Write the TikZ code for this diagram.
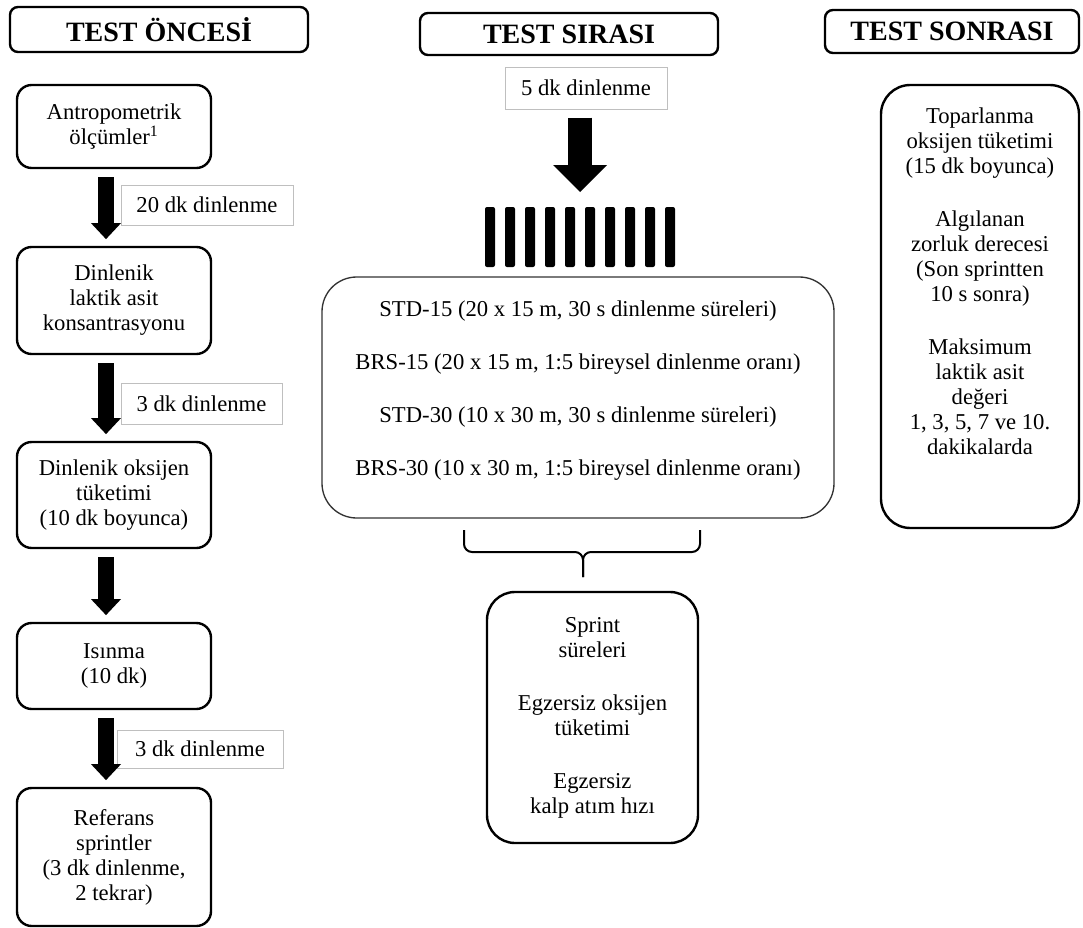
\documentclass[tikz,border=0pt]{standalone}
\usepackage{fontspec}
\setmainfont{Liberation Serif}
\usetikzlibrary{arrows.meta}

\tikzset{
  bodyfont/.style={font=\fontsize{17pt}{18.75pt}\selectfont},
  phase/.style={draw, line width=1.8pt, rounded corners=6pt, inner sep=0pt,
    font=\fontsize{21pt}{24pt}\selectfont\bfseries},
  stepbox/.style={draw, line width=1.8pt, rounded corners=11pt, bodyfont,
    align=center, inner sep=0pt, minimum width=145.5pt},
  restlbl/.style={draw=gray!50, line width=0.75pt, bodyfont, inner sep=0pt},
  flow/.style={line width=12pt, -{Triangle[length=12pt, width=22.5pt, line width=0pt]},
    shorten <=6pt, shorten >=5pt},
  bigflow/.style={line width=18pt, -{Triangle[length=20.25pt, width=40.5pt, line width=0pt]},
    shorten <=6pt, shorten >=11.25pt},
}

\begin{document}
\begin{tikzpicture}[x=0.75pt, y=-0.75pt]
  \useasboundingbox (0,0) rectangle (1083,928);
  \fill[white] (0,0) rectangle (1083,928);

  % headers
  \node[phase, minimum width=223.5pt, minimum height=33.75pt] (pre) at (159,29.5) {TEST ÖNCESİ};
  \node[phase, minimum width=223.5pt, minimum height=31.5pt] (during) at (569,34) {TEST SIRASI};
  \node[phase, minimum width=190.5pt, minimum height=32.25pt] (post) at (952,31.5) {TEST SONRASI};

  % before the test
  \node[stepbox, minimum height=62.25pt] (antro) at (114,126.5) {Antropometrik\\ölçümler\textsuperscript{1}};
  \node[stepbox, minimum height=80.25pt] (restlac) at (114,300.5) {Dinlenik\\laktik asit\\konsantrasyonu};
  \node[stepbox, minimum height=79.5pt] (restvo) at (114,495) {Dinlenik oksijen\\tüketimi\\(10 dk boyunca)};
  \node[stepbox, minimum height=64.5pt] (warmup) at (114,666) {Isınma\\(10 dk)};
  \node[stepbox, minimum height=103.5pt] (refspr) at (114,857) {Referans\\sprintler\\(3 dk dinlenme,\\2 tekrar)};

  \node[restlbl, minimum width=129pt, minimum height=30pt] (rest20) at (207,205) {20 dk dinlenme};
  \node[restlbl, minimum width=120.75pt, minimum height=30.75pt] (rest3a) at (201.5,403.5) {3 dk dinlenme};
  \node[restlbl, minimum width=124.5pt, minimum height=28.5pt] (rest3b) at (200,749) {3 dk dinlenme};

  \draw[flow] ([xshift=-6pt]antro.south) -- ([xshift=-6pt]restlac.north);
  \draw[flow] ([xshift=-6pt]restlac.south) -- ([xshift=-6pt]restvo.north);
  \draw[flow] ([xshift=-6pt]restvo.south) -- ([xshift=-6pt]warmup.north);
  \draw[flow] ([xshift=-6pt]warmup.south) -- ([xshift=-6pt]refspr.north);

  % during the test
  \node[restlbl, minimum width=121.5pt, minimum height=31.5pt] (rest5) at (586,88) {5 dk dinlenme};
  \coordinate (bars) at (580,207);
  \draw[bigflow] (rest5.south -| bars) -- (bars);
  \foreach \i in {0,...,9}
    \fill[rounded corners=1.5pt] ({485+20*\i},207) rectangle ++(10,60);

  \node[draw=black!80, line width=1pt, rounded corners=26pt, inner sep=0pt,
    minimum width=384pt, minimum height=180.75pt] (protocols) at (578,397.5) {};
  \node[bodyfont, align=center, anchor=north, inner sep=0pt] (protolist) at (578,301)
    {STD-15 (20 x 15 m, 30 s dinlenme süreleri)\\[21pt]
     BRS-15 (20 x 15 m, 1:5 bireysel dinlenme oranı)\\[21pt]
     STD-30 (10 x 30 m, 30 s dinlenme süreleri)\\[21pt]
     BRS-30 (10 x 30 m, 1:5 bireysel dinlenme oranı)};

  \draw[line width=1.5pt, rounded corners=6pt] (464,530) |- (583,552) -- (583,577);
  \draw[line width=1.5pt, rounded corners=6pt] (700,530) |- (583,552) -- (583,577);

  \node[stepbox, rounded corners=21pt, minimum width=158.25pt, minimum height=188.25pt] (exmeas) at (592.5,717.5)
    {Sprint\\süreleri\\[21pt]Egzersiz oksijen\\tüketimi\\[21pt]Egzersiz\\kalp atım hızı};

  % after the test
  \node[draw, line width=1.8pt, rounded corners=22pt, inner sep=0pt,
    minimum width=148.5pt, minimum height=332.25pt] (recov) at (980,306.5) {};
  \node[bodyfont, align=center, anchor=north, inner sep=0pt] (recovlist) at (980,108)
    {Toparlanma\\oksijen tüketimi\\(15 dk boyunca)\\[21pt]
     Algılanan\\zorluk derecesi\\(Son sprintten\\10 s sonra)\\[21pt]
     Maksimum\\laktik asit\\değeri\\1, 3, 5, 7 ve 10.\\dakikalarda};
\end{tikzpicture}
\end{document}
